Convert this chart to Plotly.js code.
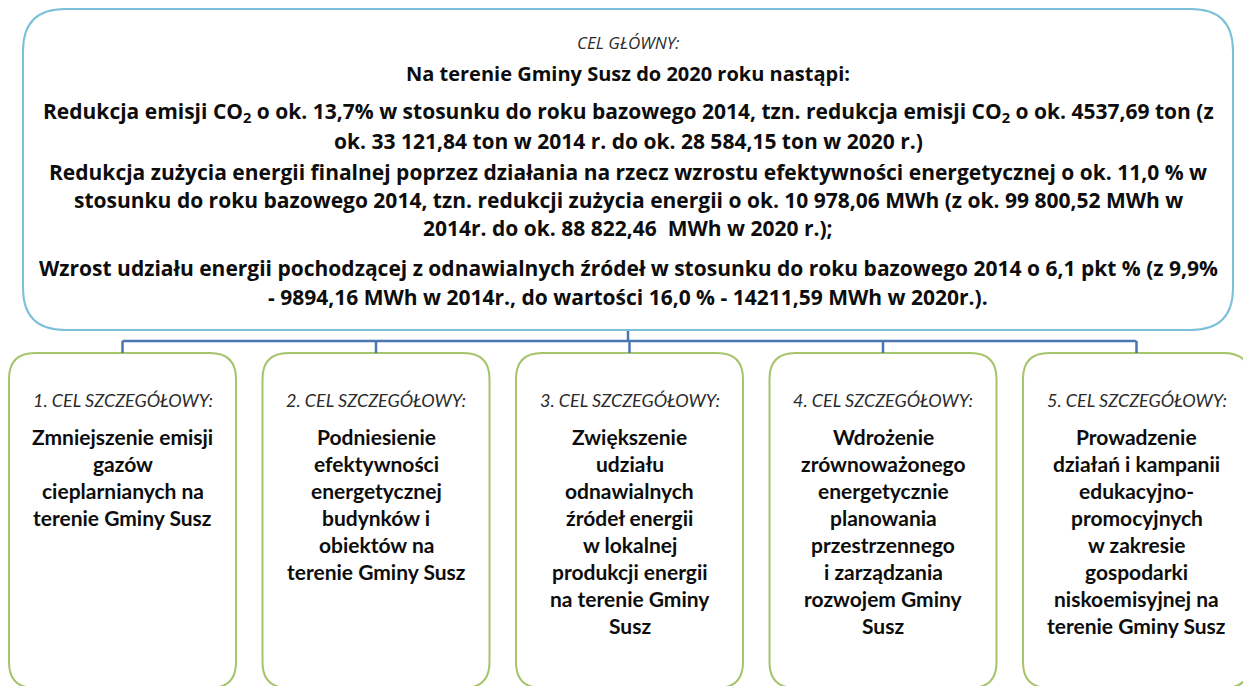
<!DOCTYPE html>
<html>
<head>
<meta charset="utf-8">
<script src="https://cdn.plot.ly/plotly-3.0.1.min.js"></script>
<style>html,body{margin:0;padding:0;background:#fff}#plot{width:1243px;height:686px}</style>
</head>
<body>
<div id="plot"></div>
<script>
var mainLabel = 'CEL GŁÓWNY:';
var mainLead = 'Na terenie Gminy Susz do 2020 roku nastąpi:';
var mainLines = [
  'Redukcja emisji CO<sub>2</sub> o ok. 13,7% w stosunku do roku bazowego 2014, tzn. redukcja emisji CO<sub>2</sub> o ok. 4537,69 ton (z',
  'ok. 33 121,84 ton w 2014 r. do ok. 28 584,15 ton w 2020 r.)',
  'Redukcja zużycia energii finalnej poprzez działania na rzecz wzrostu efektywności energetycznej o ok. 11,0 % w',
  'stosunku do roku bazowego 2014, tzn. redukcji zużycia energii o ok. 10 978,06 MWh (z ok. 99 800,52 MWh w',
  '2014r. do ok. 88 822,46  MWh w 2020 r.);',
  'Wzrost udziału energii pochodzącej z odnawialnych źródeł w stosunku do roku bazowego 2014 o 6,1 pkt % (z 9,9%',
  '- 9894,16 MWh w 2014r., do wartości 16,0 % - 14211,59 MWh w 2020r.).'
];
var mainLineY = [112, 141, 172, 200, 228, 268, 297];

var subLabels = ['1. CEL SZCZEGÓŁOWY:', '2. CEL SZCZEGÓŁOWY:', '3. CEL SZCZEGÓŁOWY:', '4. CEL SZCZEGÓŁOWY:', '5. CEL SZCZEGÓŁOWY:'];
var subTexts = [
  ['Zmniejszenie emisji', 'gazów', 'cieplarnianych na', 'terenie Gminy Susz'],
  ['Podniesienie', 'efektywności', 'energetycznej', 'budynków i', 'obiektów na', 'terenie Gminy Susz'],
  ['Zwiększenie', 'udziału', 'odnawialnych', 'źródeł energii', 'w lokalnej', 'produkcji energii', 'na terenie Gminy', 'Susz'],
  ['Wdrożenie', 'zrównoważonego', 'energetycznie', 'planowania', 'przestrzennego', 'i zarządzania', 'rozwojem Gminy', 'Susz'],
  ['Prowadzenie', 'działań i kampanii', 'edukacyjno-', 'promocyjnych', 'w zakresie', 'gospodarki', 'niskoemisyjnej na', 'terenie Gminy Susz']
];

var W = 1243, H = 686;
var topFont = '"Open Sans", sans-serif';
var boxFont = 'Lato, sans-serif';

function roundRect(x0, y0, x1, y1, r) {
  return 'M' + (x0 + r) + ',' + y0 +
    ' L' + (x1 - r) + ',' + y0 +
    ' Q' + x1 + ',' + y0 + ' ' + x1 + ',' + (y0 + r) +
    ' L' + x1 + ',' + (y1 - r) +
    ' Q' + x1 + ',' + y1 + ' ' + (x1 - r) + ',' + y1 +
    ' L' + (x0 + r) + ',' + y1 +
    ' Q' + x0 + ',' + y1 + ' ' + x0 + ',' + (y1 - r) +
    ' L' + x0 + ',' + (y0 + r) +
    ' Q' + x0 + ',' + y0 + ' ' + (x0 + r) + ',' + y0 + ' Z';
}

var shapes = [];
var annotations = [];

// main box
shapes.push({type: 'path', path: roundRect(23, 9, 1233, 330, 42), line: {color: '#7cc0d8', width: 2}, fillcolor: '#fff'});

// sub boxes
var boxW = 227, gap = 26.5, boxX0 = 9, boxTop = 353, boxBottom = 686;
var centers = [];
for (var i = 0; i < subLabels.length; i++) {
  var x0 = boxX0 + i * (boxW + gap);
  centers.push(x0 + boxW / 2);
  shapes.push({type: 'path', path: roundRect(x0, boxTop, x0 + boxW, boxBottom + 2, 26), line: {color: '#a5c46c', width: 2}, fillcolor: '#fff'});
}

// connectors
var lc = {color: '#4a76b0', width: 2.5};
shapes.push({type: 'line', x0: 628, x1: 628, y0: 331, y1: 341, line: lc});
shapes.push({type: 'line', x0: centers[0], x1: centers[4], y0: 341, y1: 341, line: lc});
centers.forEach(function (c) {
  shapes.push({type: 'line', x0: c, x1: c, y0: 341, y1: boxTop, line: lc});
});

function txt(x, y, text, size, fam, italic, bold) {
  annotations.push({
    x: x, y: y, xref: 'x', yref: 'y', text: bold ? '<b>' + text + '</b>' : text,
    showarrow: false, xanchor: 'center', yanchor: 'middle',
    font: {family: fam, size: size, color: italic ? '#2b2b2b' : '#0d0d0d', style: italic ? 'italic' : 'normal'}
  });
}

txt(628, 42, mainLabel, 17, topFont, true, false);
txt(628, 73, mainLead, 20, topFont, false, true);
mainLines.forEach(function (t, k) { txt(628, mainLineY[k], t, 21, topFont, false, true); });

for (var j = 0; j < subLabels.length; j++) {
  txt(centers[j], 400, subLabels[j], 18, boxFont, true, false);
  subTexts[j].forEach(function (t, k) { txt(centers[j], 436 + k * 27, t, 21, boxFont, false, true); });
}

var layout = {
  width: W, height: H,
  margin: {l: 0, r: 0, t: 0, b: 0},
  paper_bgcolor: '#fff', plot_bgcolor: '#fff',
  xaxis: {range: [0, W], visible: false, fixedrange: true},
  yaxis: {range: [H, 0], visible: false, fixedrange: true},
  shapes: shapes,
  annotations: annotations,
  showlegend: false
};

Plotly.newPlot('plot', [], layout, {displayModeBar: false, staticPlot: true});
</script>
</body>
</html>
